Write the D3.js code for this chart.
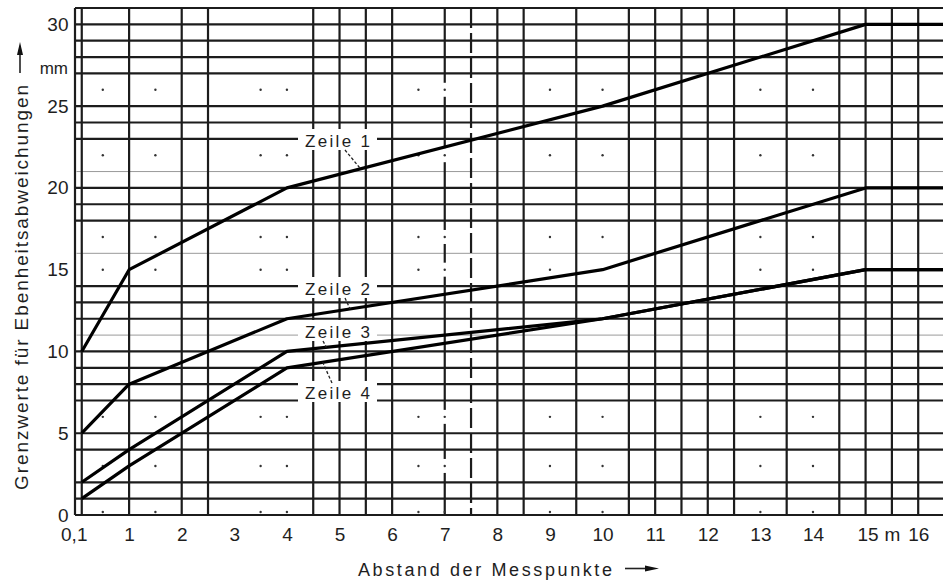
<!DOCTYPE html>
<html><head><meta charset="utf-8">
<script src="https://cdn.jsdelivr.net/npm/d3@7"></script>
<style>
body{margin:0;background:#fff}
svg{display:block}
text{font-family:"Liberation Sans",Arial,"DejaVu Sans",sans-serif;fill:#1e1e1e}
</style>
</head><body>
<svg id="chart" width="943" height="586"></svg>
<script>
// ---- data ----
const xBreaks = [0.1, 1, 4, 10, 15, 16.5];
const zeile1 = [10, 15, 20, 25, 30, 30];
const zeile2 = [5, 8, 12, 15, 20, 20];
const zeile3 = [2, 4, 10, 12, 15, 15];
const zeile4 = [1, 3, 9, 12, 15, 15];
const seriesNames = ["Zeile 1", "Zeile 2", "Zeile 3", "Zeile 4"];

const xTickValues = [0.1, 1, 2, 3, 4, 5, 6, 7, 8, 9, 10, 11, 12, 13, 14, 15, 15.5, 16];
const xTickLabels = ["0,1", "1", "2", "3", "4", "5", "6", "7", "8", "9", "10", "11", "12", "13", "14", "15", "m", "16"];
const yTickValues = [0, 5, 10, 15, 20, 25, 30];
const yTickLabels = ["0", "5", "10", "15", "20", "25", "30"];

const vGrid = [0, 0.1, 1, 2, 2.5, 4.5, 5, 5.5, 6, 8, 8.5, 9.5, 10.5, 11, 11.5, 12, 12.5, 13.5, 14.5, 15, 15.5, 16];
const vGridBroken = [7];
const vGridDashed = [7.5];
const hGrid = [0, 1, 2, 4, 5, 7, 8, 9, 10, 12, 13, 14, 18, 19, 20, 23, 24, 25, 27, 28, 29, 30, 31];
const hGridThin = [11, 16, 21];
const dotX = [0.5, 1.5, 3.5, 4, 6.5, 7, 9, 10, 13, 14];
const dotY = [26, 22, 17, 15, 6, 3, 0];

const xTitle = "Abstand der Messpunkte";
const yTitle = "Grenzwerte für Ebenheitsabweichungen";
const yUnit = "mm";

// ---- layout ----
const svg = d3.select("#chart");
const x = d3.scaleLinear().domain([0, 16.5]).range([76.5, 944.5]);
const y = d3.scaleLinear().domain([0, 31]).range([515, 8]);

const labelLayout = [
  {base: 147, leaderFrom: [345, 150], leaderX: 5.4},
  {base: 295, leaderFrom: [345, 298], leaderX: 5.2},
  {base: 338, leaderFrom: [323, 341], leaderX: 4.75},
  {base: 399, leaderFrom: [332, 383], leaderX: 4.68}
];

const gridColor = "#1c1c1c";
const grid = svg.append("g");
grid.selectAll("line.h").data(hGrid).join("line")
  .attr("x1", x(0) - 1.5).attr("x2", 943)
  .attr("y1", d => y(d)).attr("y2", d => y(d))
  .attr("stroke", gridColor).attr("stroke-width", 2.2);
grid.selectAll("line.ht").data(hGridThin).join("line")
  .attr("x1", x(0)).attr("x2", 943)
  .attr("y1", d => y(d)).attr("y2", d => y(d))
  .attr("stroke", "#9a9a9a").attr("stroke-width", 1);
grid.selectAll("line.v").data(vGrid).join("line")
  .attr("x1", d => x(d) - (d === 0 ? 1.5 : 0)).attr("x2", d => x(d) - (d === 0 ? 1.5 : 0))
  .attr("y1", y(31)).attr("y2", y(0))
  .attr("stroke", gridColor).attr("stroke-width", 2.2);
// broken vertical line: interrupted at the dotted rows
const rows = dotY.filter(v => v > 0).slice().sort((a, b) => b - a);
vGridBroken.forEach(v => {
  const stops = [31, ...rows, 0];
  for (let i = 0; i < stops.length - 1; i++) {
    const a = y(stops[i]) + (i === 0 ? 0 : 7);
    const b = y(stops[i + 1]) - (i === stops.length - 2 ? 0 : 7);
    grid.append("line").attr("x1", x(v)).attr("x2", x(v)).attr("y1", a).attr("y2", b)
      .attr("stroke", gridColor).attr("stroke-width", 2.2);
  }
});
grid.selectAll("line.vd").data(vGridDashed).join("line")
  .attr("x1", d => x(d)).attr("x2", d => x(d))
  .attr("y1", y(31)).attr("y2", y(0))
  .attr("stroke", gridColor).attr("stroke-width", 2.2)
  .attr("stroke-dasharray", "20,5");
const dots = [];
dotX.forEach(a => dotY.forEach(b => dots.push([a, b])));
grid.selectAll("circle").data(dots).join("circle")
  .attr("cx", d => x(d[0])).attr("cy", d => y(d[1]) - (d[1] === 0 ? 3 : 0))
  .attr("r", 1.2).attr("fill", "#333");

// caption backgrounds
const capG = svg.append("g");
labelLayout.forEach(L => {
  capG.append("rect").attr("x", 298).attr("y", L.base - 18).attr("width", 79).attr("height", 21).attr("fill", "#fff");
});

// curves
const seriesData = [zeile1, zeile2, zeile3, zeile4];
const line = d3.line().x(d => x(d[0])).y(d => y(d[1]));
svg.append("g").selectAll("path").data(seriesData).join("path")
  .attr("d", s => line(s.map((v, i) => [xBreaks[i], v])))
  .attr("fill", "none").attr("stroke", "#000").attr("stroke-width", 3.2)
  .attr("stroke-linejoin", "round");

// captions + leaders
labelLayout.forEach((L, i) => {
  capG.append("text").attr("x", 305).attr("y", L.base)
    .attr("font-size", 17).attr("textLength", 65).attr("lengthAdjust", "spacing")
    .text(seriesNames[i]);
  const yy = d3.scaleLinear().domain(xBreaks).range(seriesData[i])(L.leaderX);
  svg.append("line").attr("x1", L.leaderFrom[0]).attr("y1", L.leaderFrom[1])
    .attr("x2", x(L.leaderX)).attr("y2", y(yy))
    .attr("stroke", "#222").attr("stroke-width", 1.3).attr("stroke-dasharray", "3,2");
});

// axes (labels only)
const xAxis = d3.axisBottom(x).tickValues(xTickValues)
  .tickFormat((d, i) => xTickLabels[i]).tickSize(0).tickPadding(13);
const gx = svg.append("g").attr("transform", `translate(0,${y(0)})`).call(xAxis);
gx.select(".domain").remove();
gx.selectAll("text").attr("font-size", 19).attr("font-family", null).attr("fill", "#1e1e1e")
  .attr("dx", d => d === 0.1 ? -8 : (d === 15 ? 2 : 0));

const yAxis = d3.axisLeft(y).tickValues(yTickValues)
  .tickFormat((d, i) => yTickLabels[i]).tickSize(0).tickPadding(8);
const gy = svg.append("g").attr("transform", `translate(${x(0)},0)`).call(yAxis);
gy.select(".domain").remove();
gy.selectAll("text").attr("font-size", 19).attr("font-family", null).attr("fill", "#1e1e1e");

svg.append("text").attr("x", 68).attr("y", 74).attr("text-anchor", "end")
  .attr("font-size", 17).text(yUnit);

// titles
svg.append("text").attr("x", 358).attr("y", 576)
  .attr("font-size", 18).attr("textLength", 254).attr("lengthAdjust", "spacing")
  .text(xTitle);
svg.append("line").attr("x1", 625).attr("x2", 650).attr("y1", 568.5).attr("y2", 568.5)
  .attr("stroke", "#222").attr("stroke-width", 1.6);
svg.append("polygon").attr("points", "659,568.5 645,565.5 645,571.5").attr("fill", "#111");

svg.append("text").attr("transform", "translate(28,490) rotate(-90)")
  .attr("font-size", 19).attr("textLength", 405).attr("lengthAdjust", "spacing")
  .text(yTitle);
svg.append("line").attr("x1", 20).attr("x2", 20).attr("y1", 73).attr("y2", 50)
  .attr("stroke", "#222").attr("stroke-width", 1.6);
svg.append("polygon").attr("points", "20,42 17,55 23,55").attr("fill", "#111");
</script>
</body></html>
